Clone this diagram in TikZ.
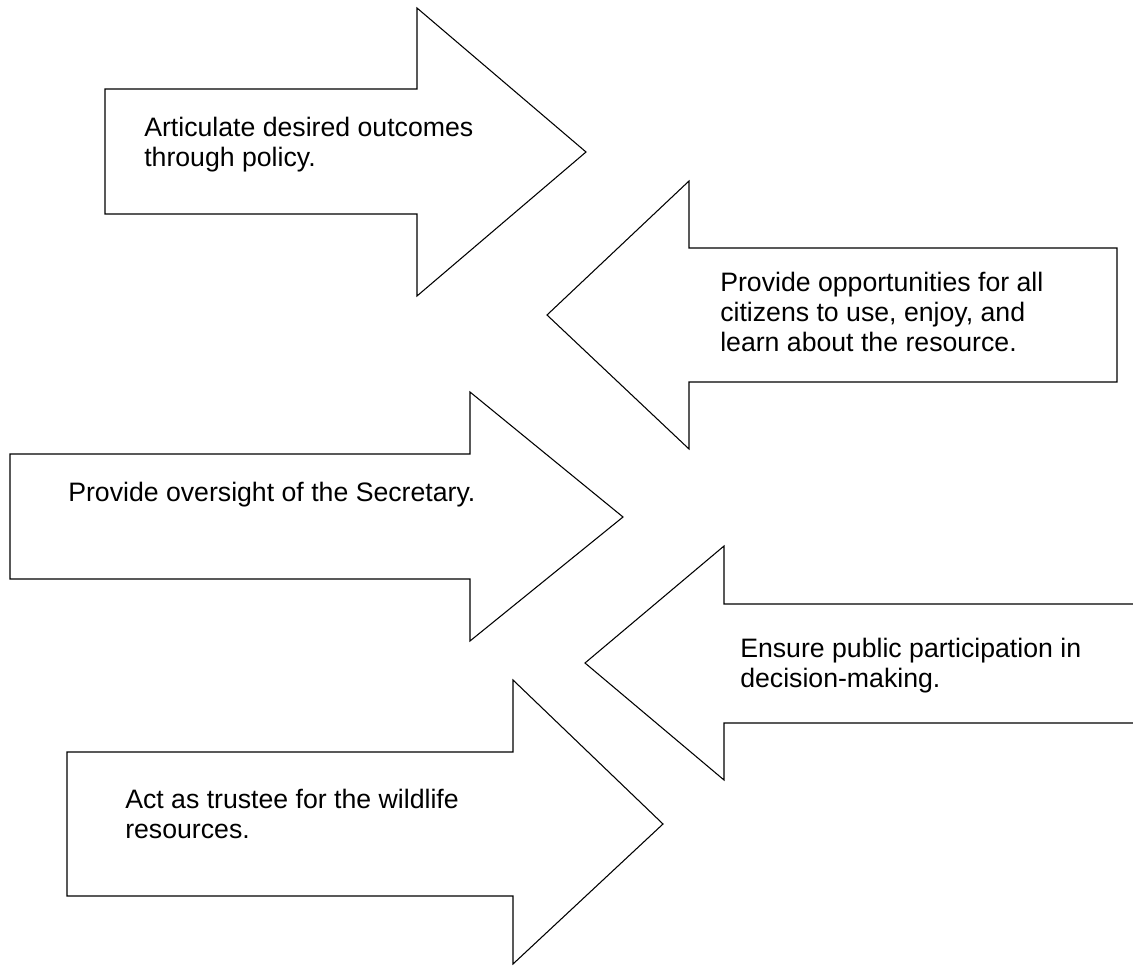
\documentclass[tikz,border=0pt]{standalone}
\usepackage{fontspec}
\setmainfont{Liberation Sans}

\tikzset{
    arrowline/.style={line width=0.8pt,draw=black},
    lbl/.style={anchor=base west,align=left,inner sep=0pt,font=\fontsize{20}{22.5}\selectfont}
}

\begin{document}
\begin{tikzpicture}[x=0.75pt,y=-0.75pt]
    \useasboundingbox (0,0) rectangle (1133,966);
    \clip (0,0) rectangle (1133,966);

    % arrow 1 (right)
    \draw[arrowline] (105,89) -- (417,89) -- (417,8) -- (586,152) -- (417,296) -- (417,214) -- (105,214) -- cycle;
    \node[lbl] (policy) at (144,167) {Articulate desired outcomes\\through policy.};

    % arrow 2 (left)
    \draw[arrowline] (1117,248) -- (689,248) -- (689,181) -- (547,315) -- (689,449) -- (689,382) -- (1117,382) -- cycle;
    \node[lbl] (citizens) at (720,352) {Provide opportunities for all\\citizens to use, enjoy, and\\learn about the resource.};

    % arrow 3 (right)
    \draw[arrowline] (10,454) -- (470,454) -- (470,392) -- (623,517) -- (470,641) -- (470,579) -- (10,579) -- cycle;
    \node[lbl] (oversight) at (68,502) {Provide oversight of the Secretary.};

    % arrow 4 (left, runs off the page)
    \draw[arrowline] (1140,604) -- (724,604) -- (724,546) -- (585,663) -- (724,780) -- (724,723) -- (1140,723);
    \node[lbl] (public) at (740,687) {Ensure public participation in\\decision-making.};

    % arrow 5 (right)
    \draw[arrowline] (67,752) -- (513,752) -- (513,680) -- (663,824) -- (513,964) -- (513,896) -- (67,896) -- cycle;
    \node[lbl] (trustee) at (125,838) {Act as trustee for the wildlife\\resources.};
\end{tikzpicture}
\end{document}
